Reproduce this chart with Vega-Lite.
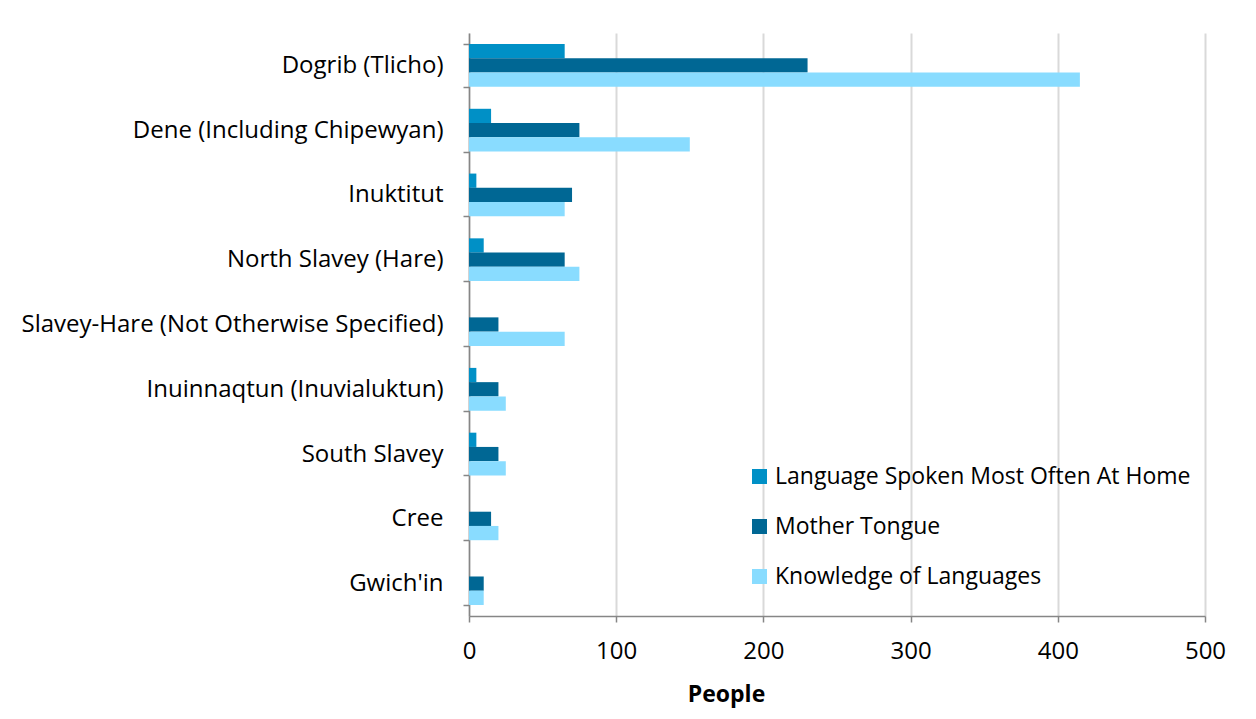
{
  "$schema": "https://vega.github.io/schema/vega-lite/v6.json",
  "width": 736,
  "height": 583,
  "autosize": {"type": "none"},
  "padding": {"left": 469, "top": 33, "right": 51, "bottom": 103},
  "background": "white",
  "config": {
    "font": "Open Sans",
    "view": {"stroke": null}
  },
  "data": {
    "values": [
      {"language": "Dogrib (Tlicho)", "measure": "Language Spoken Most Often At Home", "people": 65},
      {"language": "Dogrib (Tlicho)", "measure": "Mother Tongue", "people": 230},
      {"language": "Dogrib (Tlicho)", "measure": "Knowledge of Languages", "people": 415},
      {"language": "Dene (Including Chipewyan)", "measure": "Language Spoken Most Often At Home", "people": 15},
      {"language": "Dene (Including Chipewyan)", "measure": "Mother Tongue", "people": 75},
      {"language": "Dene (Including Chipewyan)", "measure": "Knowledge of Languages", "people": 150},
      {"language": "Inuktitut", "measure": "Language Spoken Most Often At Home", "people": 5},
      {"language": "Inuktitut", "measure": "Mother Tongue", "people": 70},
      {"language": "Inuktitut", "measure": "Knowledge of Languages", "people": 65},
      {"language": "North Slavey (Hare)", "measure": "Language Spoken Most Often At Home", "people": 10},
      {"language": "North Slavey (Hare)", "measure": "Mother Tongue", "people": 65},
      {"language": "North Slavey (Hare)", "measure": "Knowledge of Languages", "people": 75},
      {"language": "Slavey-Hare (Not Otherwise Specified)", "measure": "Language Spoken Most Often At Home", "people": 0},
      {"language": "Slavey-Hare (Not Otherwise Specified)", "measure": "Mother Tongue", "people": 20},
      {"language": "Slavey-Hare (Not Otherwise Specified)", "measure": "Knowledge of Languages", "people": 65},
      {"language": "Inuinnaqtun (Inuvialuktun)", "measure": "Language Spoken Most Often At Home", "people": 5},
      {"language": "Inuinnaqtun (Inuvialuktun)", "measure": "Mother Tongue", "people": 20},
      {"language": "Inuinnaqtun (Inuvialuktun)", "measure": "Knowledge of Languages", "people": 25},
      {"language": "South Slavey", "measure": "Language Spoken Most Often At Home", "people": 5},
      {"language": "South Slavey", "measure": "Mother Tongue", "people": 20},
      {"language": "South Slavey", "measure": "Knowledge of Languages", "people": 25},
      {"language": "Cree", "measure": "Language Spoken Most Often At Home", "people": 0},
      {"language": "Cree", "measure": "Mother Tongue", "people": 15},
      {"language": "Cree", "measure": "Knowledge of Languages", "people": 20},
      {"language": "Gwich'in", "measure": "Language Spoken Most Often At Home", "people": 0},
      {"language": "Gwich'in", "measure": "Mother Tongue", "people": 10},
      {"language": "Gwich'in", "measure": "Knowledge of Languages", "people": 10}
    ]
  },
  "mark": {"type": "bar"},
  "encoding": {
    "y": {
      "field": "language",
      "type": "nominal",
      "sort": ["Dogrib (Tlicho)", "Dene (Including Chipewyan)", "Inuktitut", "North Slavey (Hare)", "Slavey-Hare (Not Otherwise Specified)", "Inuinnaqtun (Inuvialuktun)", "South Slavey", "Cree", "Gwich'in"],
      "scale": {"paddingInner": 0.34, "paddingOuter": 0.17},
      "axis": {
        "title": null,
        "tickBand": "extent",
        "tickSize": 6,
        "tickColor": "#868686",
        "tickWidth": 1.5,
        "domainColor": "#868686",
        "domainWidth": 1.5,
        "labelFontSize": 24,
        "labelColor": "#000000",
        "labelPadding": 20,
        "labelLimit": 500,
        "grid": false
      }
    },
    "yOffset": {
      "field": "measure",
      "type": "nominal",
      "sort": ["Language Spoken Most Often At Home", "Mother Tongue", "Knowledge of Languages"],
      "scale": {"paddingInner": 0}
    },
    "x": {
      "field": "people",
      "type": "quantitative",
      "scale": {"domain": [0, 500], "nice": false},
      "axis": {
        "title": "People",
        "titleFontSize": 23,
        "titleFontWeight": "bold",
        "titleColor": "#000000",
        "titlePadding": 20,
        "titleX": 257,
        "titleAlign": "center",
        "values": [0, 100, 200, 300, 400, 500],
        "tickSize": 6,
        "tickColor": "#868686",
        "tickWidth": 1.5,
        "domainColor": "#868686",
        "domainWidth": 1.5,
        "labelFontSize": 24,
        "labelColor": "#000000",
        "labelPadding": 17,
        "labelFlush": false,
        "gridColor": "#d9d9d9",
        "gridWidth": 2
      }
    },
    "color": {
      "field": "measure",
      "type": "nominal",
      "sort": ["Language Spoken Most Often At Home", "Mother Tongue", "Knowledge of Languages"],
      "scale": {
        "domain": ["Language Spoken Most Often At Home", "Mother Tongue", "Knowledge of Languages"],
        "range": ["#0090C6", "#006794", "#89DCFF"]
      },
      "legend": {
        "title": null,
        "orient": "none",
        "legendX": 279,
        "legendY": 432,
        "symbolType": "square",
        "symbolSize": 225,
        "symbolStrokeWidth": 0,
        "labelFontSize": 23,
        "labelColor": "#000000",
        "labelLimit": 500,
        "labelOffset": 4,
        "rowPadding": 26
      }
    }
  }
}
